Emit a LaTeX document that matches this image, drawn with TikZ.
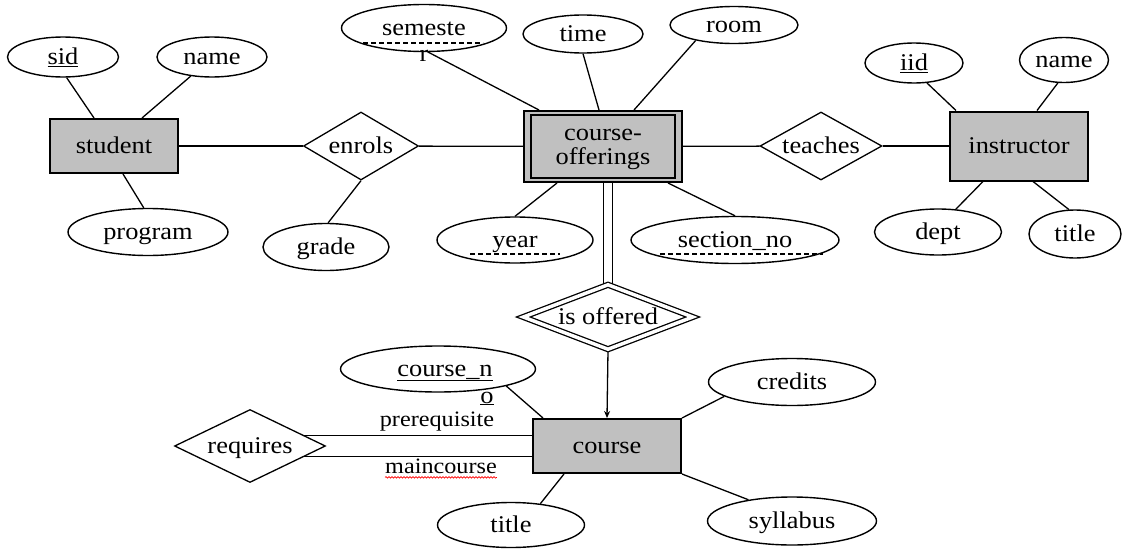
\documentclass[tikz,border=0pt]{standalone}
\usepackage{fontspec}
\setmainfont{Liberation Serif}[FakeStretch=1.1]
\usetikzlibrary{shapes.geometric,arrows.meta,calc,decorations.pathmorphing}
\definecolor{entgray}{RGB}{192,192,192}
\pgfdeclarelayer{background}
\pgfsetlayers{background,main}
\begin{document}
\begin{tikzpicture}[x=1pt,y=-1pt,
  font=\fontsize{24}{25}\selectfont,
  attr/.style={ellipse, draw, line width=1.4pt, inner sep=0pt, text height=16pt, text depth=1pt},
  ent/.style={rectangle, draw, line width=2pt, fill=entgray, inner sep=0pt},
  rel/.style={diamond, draw, line width=1.3pt, inner sep=0pt, text height=16pt, text depth=1pt},
  conn/.style={line width=1.3pt},
  lbl/.style={inner sep=0pt, font=\fontsize{22}{24}\selectfont},
  plain/.style={inner sep=0pt},
  weakkey/.style={dash pattern=on 5pt off 3pt, line width=1.2pt}]
\useasboundingbox (0,0) rectangle (1125,549);
% entities
\node[ent, minimum width=128pt, minimum height=54pt, text height=16pt, text depth=1pt] (student) at (114,146) {student};
\node[ent, minimum width=158pt, minimum height=71pt] (co) at (603,146.5) {};
\node[plain, anchor=base] (cotext1) at (603,140) {course-};
\node[plain, anchor=base] (cotext2) at (603,164) {offerings};
\draw[line width=2pt] ([xshift=8pt,yshift=-5pt]co.north west) rectangle ([xshift=-8pt,yshift=5pt]co.south east);
\node[ent, minimum width=138pt, minimum height=69pt, text height=16pt, text depth=1pt] (instructor) at (1019,146) {instructor};
\node[ent, minimum width=148pt, minimum height=54pt, text height=16pt, text depth=1pt] (course) at (607,446) {course};
% relationships
\node[rel, aspect=1.69, minimum width=115pt, minimum height=68pt] (enrols) at (361,146) {enrols};
\node[rel, aspect=1.79, minimum width=122pt, minimum height=68pt] (teaches) at (821,146) {teaches};
\node[rel, aspect=2.6, double, double distance=3.5pt, minimum width=170pt, minimum height=65pt] (isoff) at (608,317) {is offered};
\node[rel, aspect=2.07, minimum width=151pt, minimum height=73pt] (requires) at (250,446) {requires};
% attributes
\node[attr, minimum width=111pt, minimum height=40pt] (sid) at (63,57) {\underline{sid}};
\node[attr, minimum width=110pt, minimum height=40pt] (sname) at (212,57) {name};
\node[attr, minimum width=160pt, minimum height=47pt] (program) at (148,232) {program};
\node[attr, minimum width=126pt, minimum height=47pt] (grade) at (326,247) {grade};
\node[attr, minimum width=165pt, minimum height=47pt] (semester) at (424,28) {semeste};
\node[plain, anchor=base] (semr) at (424,61) {r};
\node[attr, minimum width=120pt, minimum height=38pt] (time) at (583,34) {time};
\node[attr, minimum width=128pt, minimum height=37pt] (room) at (734,25) {room};
\node[attr, minimum width=156pt, minimum height=46pt] (year) at (515,240) {year};
\node[attr, minimum width=208pt, minimum height=47pt] (section) at (735,240) {section\_no};
\node[attr, minimum width=98pt, minimum height=40pt] (iid) at (914,63) {\underline{iid}};
\node[attr, minimum width=89pt, minimum height=45pt] (iname) at (1064,60) {name};
\node[attr, minimum width=127pt, minimum height=46pt] (dept) at (938,232) {dept};
\node[attr, minimum width=92pt, minimum height=48pt] (ititle) at (1075,234) {title};
\node[attr, minimum width=195pt, minimum height=46pt] (courseno) at (438,369) {};
\node[plain, anchor=base] (cnotext) at (445,376) {\underline{course\_n}};
\node[plain, anchor=base] (cnoo) at (487,403) {\underline{o}};
\node[attr, minimum width=147pt, minimum height=45pt] (ctitle) at (511,525) {title};
\node[attr, minimum width=167pt, minimum height=47pt] (credits) at (792,382) {credits};
\node[attr, minimum width=169pt, minimum height=48pt] (syllabus) at (792,521) {syllabus};
% role labels
\node[lbl, anchor=base] (prereq) at (437,426) {prerequisite};
\node[lbl, anchor=base] (mainlbl) at (441,473) {maincourse};
\draw[red, line width=0.7pt, decorate, decoration={snake, amplitude=0.8pt, segment length=3pt}]
  ([yshift=-4pt]mainlbl.south west) -- ([yshift=-4pt]mainlbl.south east);
% weak key underlines
\draw[weakkey] ([xshift=-61pt,yshift=-15pt]semester.center) -- ([xshift=59pt,yshift=-15pt]semester.center);
\draw[weakkey] ([xshift=-45pt,yshift=-14pt]year.center) -- ([xshift=45pt,yshift=-14pt]year.center);
\draw[weakkey] ([xshift=-75pt,yshift=-14pt]section.center) -- ([xshift=88pt,yshift=-14pt]section.center);
% connectors
\begin{pgfonlayer}{background}
\fill[white] (0,0) rectangle (1125,549);
\draw[conn] (sid.-80) -- ([xshift=-20pt]student.north);
\draw[conn] (sname.-138) -- ([xshift=28pt]student.north);
\draw[conn] (program.100) -- ([xshift=9pt]student.south);
\draw[conn] (student) -- (enrols);
\draw[conn] (enrols.south) -- (grade.85);
\draw[conn] (enrols) -- (co);
\draw[conn] (semester.-80) -- ([xshift=16pt]co.north west);
\draw[conn] (time.south) -- ([xshift=-4pt]co.north);
\draw[conn] (room.-158) -- ([xshift=31pt]co.north);
\draw[conn] ([xshift=-46pt]co.south) -- (year.north);
\draw[conn] ([xshift=65pt]co.south) -- (section.north);
\draw[conn] (co) -- (teaches);
\draw[conn] (teaches) -- (instructor);
\draw[conn] (iid.-57) -- ([xshift=7pt]instructor.north west);
\draw[conn] (iname.-105) -- ([xshift=18pt]instructor.north);
\draw[conn] ([xshift=-36pt]instructor.south) -- (dept.52);
\draw[conn] ([xshift=14pt]instructor.south) -- (ititle.104);
\draw[conn, double, double distance=7.5pt] ([xshift=5pt]co.south) -- (isoff.north);
\draw[conn, -{Stealth[length=7pt,width=6pt]}] (isoff.south) -- (course.north);
\draw[conn] (courseno.-14) -- ([xshift=11pt]course.north west);
\draw[conn] (requires.11.7) -- (requires.11.7 -| course.west);
\draw[conn] (requires.-11.7) -- (requires.-11.7 -| course.west);
\draw[conn] (course.north east) -- (credits.-168);
\draw[conn] (course.south east) -- (syllabus.154);
\draw[conn] ([xshift=-43pt]course.south) -- (ctitle.36);
\end{pgfonlayer}
\end{tikzpicture}
\end{document}
